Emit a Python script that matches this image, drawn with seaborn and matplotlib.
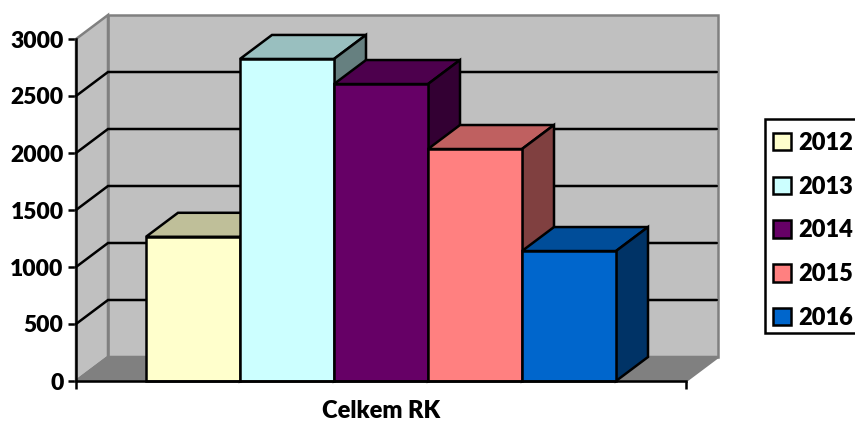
import matplotlib
matplotlib.use("Agg")
import matplotlib.pyplot as plt
from matplotlib.patches import Polygon, Patch, Rectangle
from matplotlib.colors import to_rgb
import pandas as pd
import seaborn as sns

years = ["2012", "2013", "2014", "2015", "2016"]
values = [1265, 2825, 2605, 2035, 1140]
colors = ["#FFFFCC", "#CCFFFF", "#660066", "#FF8080", "#0066CC"]
category = "Celkem RK"
y_ticks = [0, 500, 1000, 1500, 2000, 2500, 3000]

sns.set_theme(style="ticks")
plt.rcParams["font.family"] = ["Lato", "DejaVu Sans"]
plt.rcParams["font.weight"] = "heavy"

W, H = 855, 421
LW = 1.8
AX_W = 610
fig = plt.figure(figsize=(W / 100, H / 100), dpi=100, facecolor="white")
ax = fig.add_axes([76 / W, (H - 381) / H, AX_W / W, 342 / H])
ax.patch.set_alpha(0)

df = pd.DataFrame({"group": [category] * len(years), "year": years, "value": values})
sns.barplot(data=df, x="group", y="value", hue="year", hue_order=years,
            palette=colors, saturation=1, width=470 / AX_W, gap=0, dodge=True,
            edgecolor="black", linewidth=LW, legend=False, ax=ax)
ax.set_xlim(-0.5, 0.5)
ax.set_ylim(0, 3000)

# Front rectangles from seaborn, ordered left to right
bars = sorted([p for p in ax.patches if isinstance(p, Rectangle)], key=lambda p: p.get_x())

# Depth of the pseudo-3D box, expressed in data units
dx = 32 / AX_W
dy = 24 / 342 * 3000
x0, x1 = ax.get_xlim()
y0, y1 = ax.get_ylim()


def face(points, color, edge, z, lw=LW):
    ax.add_patch(Polygon(points, closed=True, facecolor=color, edgecolor=edge,
                         linewidth=lw, zorder=z, clip_on=False, joinstyle="miter"))


def shade(color, factor):
    return tuple(c * factor for c in to_rgb(color))


# Walls and floor
wall = "#C0C0C0"
wall_edge = "#808080"
face([(x0 + dx, y0 + dy), (x1 + dx, y0 + dy), (x1 + dx, y1 + dy), (x0 + dx, y1 + dy)],
     wall, wall_edge, 1)
face([(x0, y0), (x0 + dx, y0 + dy), (x0 + dx, y1 + dy), (x0, y1)], wall, wall_edge, 1)
face([(x0, y0), (x1, y0), (x1 + dx, y0 + dy), (x0 + dx, y0 + dy)], wall_edge, wall_edge, 1.1)

for t in y_ticks[1:-1]:
    ax.plot([x0, x0 + dx, x1 + dx - 0.002], [t, t + dy, t + dy], color="black", lw=LW,
            solid_joinstyle="miter", clip_on=False, zorder=1.5)

# Top and side faces follow each front rectangle, drawn left to right
for i, (bar, col) in enumerate(zip(bars, colors)):
    left, right = bar.get_x(), bar.get_x() + bar.get_width()
    top = bar.get_height()
    z = 3 + i * 0.1
    face([(left, top), (right, top), (right + dx, top + dy), (left + dx, top + dy)],
         shade(col, 0.75), "black", z)
    face([(right, 0), (right + dx, dy), (right + dx, top + dy), (right, top)],
         shade(col, 0.5), "black", z)
    bar.set_zorder(z + 0.01)
    bar.set_clip_on(False)

# Axes furniture
sns.despine(ax=ax)
for side in ("left", "bottom"):
    ax.spines[side].set_linewidth(LW)
    ax.spines[side].set_color("black")
    ax.spines[side].set_zorder(5)
ax.set_yticks(y_ticks)
ax.set_xticks([x0, x1], ["", ""])
ax.tick_params(axis="y", length=6, width=LW, color="black", pad=3,
               labelsize=16.5, labelcolor="black")
ax.tick_params(axis="x", length=6, width=LW, color="black")
ax.set_ylabel("")
ax.set_xlabel(category, fontsize=17, fontweight="heavy", color="black", labelpad=4.5)
for lbl in ax.get_yticklabels():
    lbl.set_fontweight("heavy")

# Legend box runs past the right edge of the figure; entries sit inside it unframed
fig.add_artist(Rectangle((765 / W, (H - 333) / H), 110 / W, 214 / H, transform=fig.transFigure,
                         facecolor="white", edgecolor="black", linewidth=LW))
handles = [Patch(facecolor=c, edgecolor="black", linewidth=LW, label=y)
           for c, y in zip(colors, years)]
leg = fig.legend(handles=handles, loc="upper left",
                 bbox_to_anchor=(773 / W, (H - 132) / H), bbox_transform=fig.transFigure,
                 borderaxespad=0, frameon=False, borderpad=0,
                 prop={"family": "Lato", "weight": "heavy", "size": 17},
                 handlelength=0.76, handleheight=0.76, handletextpad=0.3,
                 labelspacing=0.92, labelcolor="black")

fig.savefig("out.png", dpi=100)
